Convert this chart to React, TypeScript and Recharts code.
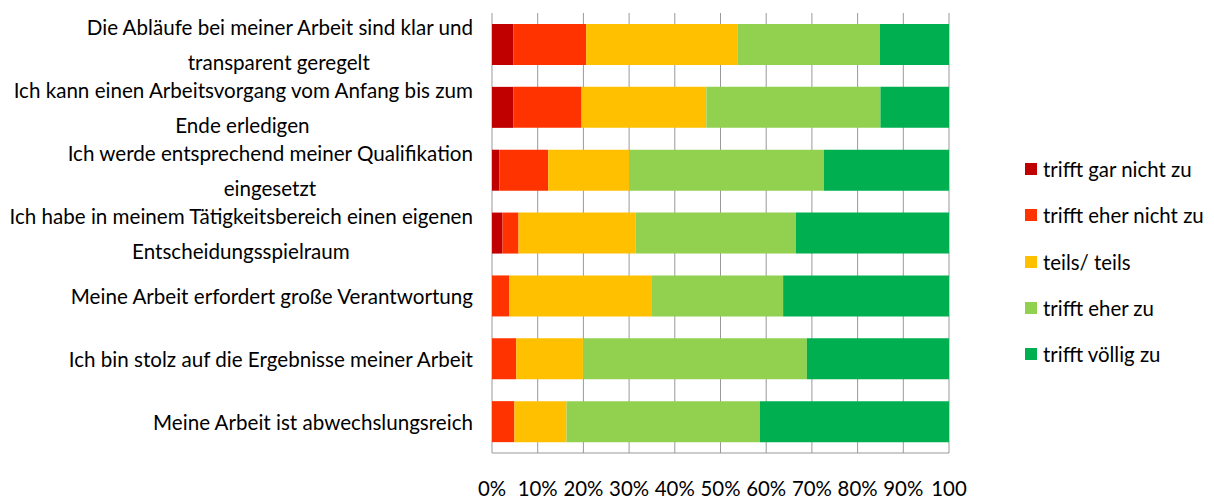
import { BarChart, Bar, XAxis, YAxis, CartesianGrid, Legend } from 'recharts';

const FONT = 'Lato, "Open Sans", sans-serif';

// top to bottom, "\n" marks where the label wraps
const categories = [
  'Die Abläufe bei meiner Arbeit sind klar und\ntransparent geregelt',
  'Ich kann einen Arbeitsvorgang vom Anfang bis zum\nEnde erledigen',
  'Ich werde entsprechend meiner Qualifikation\neingesetzt',
  'Ich habe in meinem Tätigkeitsbereich einen eigenen\nEntscheidungsspielraum',
  'Meine Arbeit erfordert große Verantwortung',
  'Ich bin stolz auf die Ergebnisse meiner Arbeit',
  'Meine Arbeit ist abwechslungsreich',
];

const garNicht = [4.7, 4.7, 1.6, 2.3, 0, 0, 0];
const eherNicht = [15.9, 14.9, 10.7, 3.5, 3.8, 5.3, 4.9];
const teils = [33.2, 27.3, 17.7, 25.6, 31.2, 14.6, 11.4];
const eherZu = [31.1, 38.1, 42.6, 35.1, 28.7, 49.0, 42.3];
const voellig = [15.1, 15.0, 27.4, 33.5, 36.3, 31.1, 41.4];

const xTicks = [0, 10, 20, 30, 40, 50, 60, 70, 80, 90, 100];

const series = [
  { key: 'garNicht', name: 'trifft gar nicht zu', color: '#C00000' },
  { key: 'eherNicht', name: 'trifft eher nicht zu', color: '#FF3300' },
  { key: 'teils', name: 'teils/ teils', color: '#FFC000' },
  { key: 'eherZu', name: 'trifft eher zu', color: '#92D050' },
  { key: 'voellig', name: 'trifft völlig zu', color: '#00B050' },
];

const data = categories.map((name, i) => ({
  name,
  garNicht: garNicht[i],
  eherNicht: eherNicht[i],
  teils: teils[i],
  eherZu: eherZu[i],
  voellig: voellig[i],
}));

let ctx: CanvasRenderingContext2D | null = null;
function textWidth(s: string, size: number) {
  if (!ctx) ctx = document.createElement('canvas').getContext('2d');
  if (!ctx) return s.length * size * 0.5;
  ctx.font = `${size}px ${FONT}`;
  return ctx.measureText(s).width;
}

const LABEL_SIZE = 20.6;

function CategoryTick({ x, y, payload }: any) {
  const lines = String(payload.value).split('\n');
  const right = x - 11;
  const w1 = textWidth(lines[0], LABEL_SIZE);
  const gap = 35;
  const startY = y - ((lines.length - 1) * gap) / 2;
  return (
    <g>
      {lines.map((line, i) => (
        <text
          key={i}
          x={i === 0 ? right : right - w1 / 2}
          y={startY + i * gap}
          textAnchor={i === 0 ? 'end' : 'middle'}
          dominantBaseline="central"
          fontSize={LABEL_SIZE}
          fontFamily={FONT}
          fill="#000"
        >
          {line}
        </text>
      ))}
    </g>
  );
}

// keep the legend in series order, not the sorted payload order
function LegendList({ payload }: any) {
  const items = [...(payload || [])].sort(
    (a: any, b: any) =>
      series.findIndex((s) => s.name === a.value) - series.findIndex((s) => s.name === b.value)
  );
  return (
    <div style={{ fontFamily: FONT }}>
      {items.map((entry: any) => (
        <div key={entry.value} style={{ display: 'flex', alignItems: 'center', height: 46.25 }}>
          <span style={{ width: 12, height: 12, background: entry.color, marginRight: 6, display: 'inline-block' }} />
          <span style={{ fontSize: 20.4, color: '#000', whiteSpace: 'nowrap' }}>{entry.value}</span>
        </div>
      ))}
    </div>
  );
}

export default function App() {
  return (
    <div style={{ position: 'absolute', left: 0, top: 0, width: 1214, height: 502, background: '#fff' }}>
      <BarChart
        width={1214}
        height={502}
        data={data}
        layout="vertical"
        margin={{ top: 13, right: 265, left: 0, bottom: 0 }}
      >
        <CartesianGrid horizontal={false} stroke="#999" />
        <XAxis
          type="number"
          domain={[0, 100]}
          ticks={xTicks}
          height={49}
          axisLine={{ stroke: '#999' }}
          tickLine={false}
          tickMargin={23}
          tick={{ fill: '#000', fontSize: 20.4, fontFamily: FONT }}
          tickFormatter={(v: number) => (v === 100 ? '100' : `${v}%`)}
          interval={0}
        />
        <YAxis
          type="category"
          dataKey="name"
          width={492}
          axisLine={false}
          tickLine={false}
          tick={<CategoryTick />}
          interval={0}
        />
        <Legend
          layout="vertical"
          align="center"
          verticalAlign="middle"
          content={<LegendList />}
          wrapperStyle={{ left: 1025, top: 146, width: 'auto' }}
        />
        {series.map((s) => (
          <Bar
            key={s.key}
            dataKey={s.key}
            name={s.name}
            stackId="a"
            fill={s.color}
            barSize={41}
            isAnimationActive={false}
          />
        ))}
      </BarChart>
    </div>
  );
}
